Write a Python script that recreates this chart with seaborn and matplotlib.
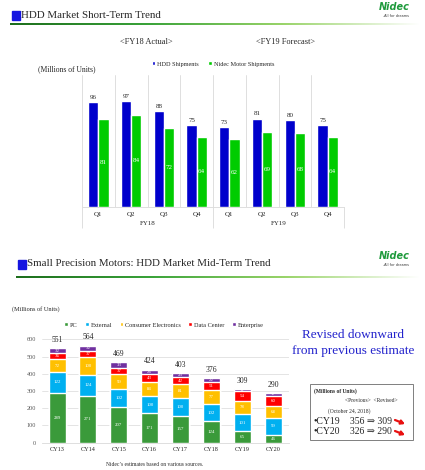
import matplotlib
matplotlib.use("Agg")
import matplotlib.pyplot as plt
import matplotlib.transforms as mtransforms
from matplotlib.colors import LinearSegmentedColormap
from matplotlib.patches import Rectangle
import numpy as np
import pandas as pd
import seaborn as sns

# ---- data: short-term trend (top slide)
periods = ["FY18 Q1", "FY18 Q2", "FY18 Q3", "FY18 Q4",
           "FY19 Q1", "FY19 Q2", "FY19 Q3", "FY19 Q4"]
quarter_labels = ["Q1", "Q2", "Q3", "Q4", "Q1", "Q2", "Q3", "Q4"]
fiscal_years = ["FY18", "FY19"]
hdd_shipments = [96, 97, 88, 75, 73, 81, 80, 75]
nidec_shipments = [81, 84, 72, 64, 62, 69, 68, 64]

# ---- data: mid-term trend (bottom slide)
years = ["CY13", "CY14", "CY15", "CY16", "CY17", "CY18", "CY19", "CY20"]
pc = [289, 271, 207, 171, 157, 124, 65, 46]
external = [122, 124, 102, 100, 100, 102, 101, 99]
consumer = [72, 100, 90, 84, 81, 77, 78, 68]
data_center = [36, 37, 37, 43, 42, 51, 54, 60]
enterprise = [32, 32, 33, 26, 23, 22, 11, 17]
totals = [551, 564, 469, 424, 403, 376, 309, 290]

revision_years = ["CY19", "CY20"]
previous_est = [356, 326]
revised_est = [309, 290]

W, H = 425, 470

def fx(px):
    return px / W

def fy(py):
    return 1 - py / H

sns.set_style("white")
plt.rcParams['font.family'] = ['Liberation Serif', 'DejaVu Serif']

fig = plt.figure(figsize=(4.25, 4.7), dpi=100)
fig.patch.set_facecolor("white")

green_line = LinearSegmentedColormap.from_list("gl", ["#1d6e1d", "#3aa33a", "#9ad46a", "#ffffff"])

def slide_header(title, y_title, x_sq, y_line, x_line0):
    fig.patches.append(Rectangle((fx(x_sq), fy(y_title + 4.5)), fx(8), 8.5 / H,
                                 transform=fig.transFigure, color="#1515e0", zorder=3))
    fig.text(fx(x_sq + 9), fy(y_title), title, fontsize=7.8, va="center", ha="left")
    lax = fig.add_axes([fx(x_line0), fy(y_line + 1), fx(420 - x_line0), 2 / H])
    lax.imshow(np.linspace(0, 1, 256)[None, :], aspect="auto", cmap=green_line)
    lax.axis("off")
    fig.text(fx(394), fy(y_title - 8), "Nidec", fontsize=7, fontweight="bold", style="italic",
             color="#1f9a3c", ha="center", va="center", family="DejaVu Sans")
    fig.text(fx(396), fy(y_title + 1), "-All for dreams", fontsize=2.5, ha="center", va="center",
             color="#333333", family="DejaVu Sans")

# ================= top slide =================
slide_header("HDD Market Short-Term Trend", 15, 12, 24, 10)

fig.text(fx(146), fy(42), "<FY18 Actual>", fontsize=6, ha="center", va="center")
fig.text(fx(285), fy(42), "<FY19 Forecast>", fontsize=6, ha="center", va="center")
fig.text(fx(38), fy(69), "(Millions of Units)", fontsize=5.5, ha="left", va="center")

ax1 = fig.add_axes([fx(82), fy(206.7), fx(262), 131.7 / H])
df_short = pd.DataFrame({
    "period": periods * 2,
    "value": hdd_shipments + nidec_shipments,
    "series": ["HDD Shipments"] * len(periods) + ["Nidec Motor Shipments"] * len(periods),
})
sns.barplot(data=df_short, x="period", y="value", hue="series",
            palette=["#0000cc", "#00cc00"], saturation=1, width=0.62, ax=ax1)
ax1.bar_label(ax1.containers[0], fontsize=5, padding=1.5)
ax1.bar_label(ax1.containers[1], label_type="center", fontsize=5, color="white")

ax1.set_ylim(0, 121)
ax1.set_xlim(-0.5, len(periods) - 0.5)
ax1.set_yticks([])
ax1.set_xlabel("")
ax1.set_ylabel("")
ax1.set_xticks(range(len(periods)))
ax1.set_xticklabels(quarter_labels, fontsize=5)
ax1.tick_params(axis="x", which="major", length=0, pad=3.5)
ax1.set_xticks(np.arange(-0.5, len(periods), 1), minor=True)
ax1.tick_params(axis="x", which="minor", length=8, color="#d9d9d9", width=0.6)
ax1.grid(axis="x", which="minor", color="#d9d9d9", lw=0.6)
for s in ["top", "left", "right"]:
    ax1.spines[s].set_visible(False)
ax1.spines["bottom"].set_color("#d9d9d9")
ax1.spines["bottom"].set_linewidth(0.6)

trans = mtransforms.blended_transform_factory(ax1.transData, ax1.transAxes)
ax1.vlines([-0.5, 3.5, 7.5], -0.16, 0, transform=trans, color="#d9d9d9", lw=0.6, clip_on=False)
for i, fy_label in enumerate(fiscal_years):
    ax1.text(1.5 + 4 * i, -0.131, fy_label, transform=trans, fontsize=5, ha="center", va="center")

sns.move_legend(ax1, "center", bbox_to_anchor=(0.5, 1.083), ncol=2, frameon=False, title=None,
                fontsize=4.5, handlelength=0.6, handleheight=0.6, columnspacing=1.5,
                handletextpad=0.3)

# ================= bottom slide =================
slide_header("Small Precision Motors: HDD Market Mid-Term Trend", 264, 18, 277, 16)

fig.text(fx(12), fy(309), "(Millions of Units)", fontsize=4.5, ha="left", va="center")

ax2 = fig.add_axes([fx(41.6), fy(442.7), fx(247), 103.4 / H])
segments = [("PC", pc, "#3a9a3a"),
            ("External", external, "#00b0f0"),
            ("Consumer Electronics", consumer, "#ffc000"),
            ("Data Center", data_center, "#ff0000"),
            ("Enterprise", enterprise, "#7030a0")]
cums = np.cumsum([s[1] for s in segments], axis=0)

for (name, vals, col), cum in reversed(list(zip(segments, cums))):
    sns.barplot(x=years, y=cum, color=col, saturation=1, width=0.55, ax=ax2, label=name, zorder=2)

for (name, vals, col), cum in zip(segments, cums):
    for i, v in enumerate(vals):
        ax2.text(i, cum[i] - v / 2, str(v), fontsize=3.5, color="white", ha="center", va="center")
for i, t in enumerate(totals):
    ax2.annotate(str(t), (i, cums[-1][i]), xytext=(0, 3), textcoords="offset points",
                 fontsize=5.5, ha="center", va="bottom")

ax2.set_ylim(0, 600)
ax2.set_yticks(range(0, 601, 100))
ax2.tick_params(axis="y", labelsize=4.5, labelcolor="#595959", length=0, pad=4)
ax2.tick_params(axis="x", labelsize=4.5, length=0, pad=3)
ax2.grid(axis="y", color="#d9d9d9", lw=0.5, zorder=0)
ax2.set_axisbelow(True)
for s in ["top", "left", "right"]:
    ax2.spines[s].set_visible(False)
ax2.spines["bottom"].set_color("#d9d9d9")
ax2.spines["bottom"].set_linewidth(0.6)

handles, labels = ax2.get_legend_handles_labels()
ax2.legend(handles[::-1], labels[::-1], loc="center", bbox_to_anchor=(0.495, 1.138), ncol=5,
           frameon=False, fontsize=4.5, handlelength=0.6, handleheight=0.6,
           columnspacing=1.2, handletextpad=0.3)

fig.text(fx(155), fy(465), "Nidec\u2019s estimates based on various sources.", fontsize=4,
         ha="center", va="center")

fig.text(fx(353), fy(343), "Revised downward\nfrom previous estimate", fontsize=9.5,
         color="#2222cc", ha="center", va="center", linespacing=1.35)

fig.patches.append(Rectangle((fx(310), fy(440)), fx(103), 56 / H, transform=fig.transFigure,
                             fill=False, edgecolor="#7f7f7f", lw=0.7))
fig.text(fx(314), fy(391), "(Millions of Units)", fontsize=4, fontweight="bold", va="center")
fig.text(fx(371), fy(401), "<Previous>  <Revised>", fontsize=4, ha="center", va="center")
fig.text(fx(349), fy(411), "(October 24, 2018)", fontsize=4, ha="center", va="center")
for k, yr in enumerate(revision_years):
    ypx = 421 + 11 * k
    fig.text(fx(313), fy(ypx), "\u2022" + yr, fontsize=7, va="center")
    fig.text(fx(350), fy(ypx), f"{previous_est[k]} \u21d2 {revised_est[k]}", fontsize=7, va="center")
    ax2.annotate("", xy=(fx(405), fy(ypx + 3)), xytext=(fx(395), fy(ypx - 1)),
                 xycoords="figure fraction", textcoords="figure fraction", annotation_clip=False,
                 arrowprops=dict(arrowstyle="-|>,head_width=0.2,head_length=0.35", lw=1.6,
                                 color="#e81010", shrinkA=0, shrinkB=0, mutation_scale=6))

fig.savefig("out.png", dpi=100)
